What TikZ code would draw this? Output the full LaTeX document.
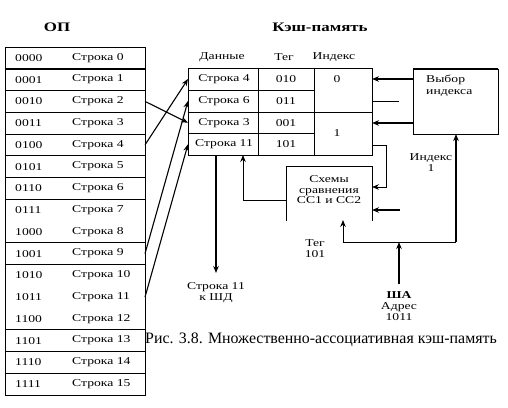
\documentclass[tikz,border=0pt]{standalone}
\usepackage{fontspec}
\setmainfont{Liberation Serif}
\newfontfamily\diagfont[FakeStretch=1.3]{Liberation Serif}
\usetikzlibrary{arrows.meta}
\tikzset{
  lbl/.style={font=\diagfont\fontsize{10.5}{12}\selectfont, inner sep=0pt},
  ttl/.style={font=\diagfont\fontsize{13}{15}\selectfont\bfseries, inner sep=0pt},
  ln/.style={line width=0.8pt},
  arr/.style={line width=1.1pt, -{Stealth[length=7pt,width=5.5pt]}},
}
\begin{document}
\begin{tikzpicture}[x=1pt,y=-1pt]
\useasboundingbox (0,0) rectangle (508,407);
% ---------- Titles ----------
\node[ttl] (tOP) at (57,27) {ОП};
\node[ttl] (tCache) at (320,27) {Кэш-память};
% ---------- Main memory table ----------
\def\rh{21.75}
\draw[ln] (5,47) rectangle (145,395);
\draw[line width=1.6pt] (5,68.75) -- (145,68.75);
\foreach \i in {1,2,3,4,5,6,8,9,12,13,14} {
  \draw[ln] (5,{47+\rh*(\i+1)}) -- (145,{47+\rh*(\i+1)});
}
\foreach \a [count=\i from 0] in {0000,0001,0010,0011,0100,0101,0110,0111,1000,1001,1010,1011,1100,1101,1110,1111} {
  \node[lbl,anchor=west] (adr\i) at (15,{47+\rh*(\i+0.5)}) {\a};
  \node[lbl,anchor=west] (op\i) at (72,{47+\rh*(\i+0.5)}) {Строка \i};
  \coordinate (opr\i) at (145,{47+\rh*(\i+0.5)});
}
% ---------- Cache table ----------
\node[lbl] (hData) at (222,57) {Данные};
\node[lbl] (hTag) at (284,57) {Тег};
\node[lbl] (hIdx) at (334,57) {Индекс};
\draw[ln] (188,68) rectangle (372,155);
\draw[ln] (258,68) -- (258,155);
\draw[ln] (314,68) -- (314,155);
\draw[ln] (188,90) -- (314,90);
\draw[ln] (188,133.5) -- (314,133.5);
\draw[ln] (188,112) -- (372,112);
\foreach \s/\t/\y [count=\k] in {4/010/79, 6/011/101, 3/001/122.75, 11/101/144.25} {
  \node[lbl] (cd\k) at (224,\y) {Строка \s};
  \node[lbl] (ct\k) at (286,\y) {\t};
  \coordinate (cl\k) at (188,\y);
}
\node[lbl] (ci0) at (337,79) {0};
\node[lbl] (ci1) at (337,133) {1};
\coordinate (cr1) at (372,79);
\coordinate (cr2) at (372,101);
\coordinate (cr3) at (372,123);
\coordinate (cr4) at (372,145);
% ---------- Index selector ----------
\draw[ln] (413,134) -- (413,69) (498,69) -- (498,134) -- (413,134);
\draw[line width=1.8pt] (412.6,69) -- (498.4,69);
\node[lbl,anchor=north west,align=left] (sel) at (426,75) {Выбор\\[-0.5pt]индекса};
\coordinate (selA) at (413,79);
\coordinate (selB) at (413,123);
\coordinate (selBot) at (456,134);
% ---------- Comparators ----------
\draw[ln] (286,221) -- (286,166) -- (372,166) -- (372,221);
\node[lbl,align=center] (cmp) at (329,190) {Схемы\\[-1.5pt]сравнения\\[-1.5pt]СС1 и СС2};
\coordinate (cmpL) at (286,200);
\coordinate (cmpR1) at (372,187);
\coordinate (cmpR2) at (372,210);
\coordinate (cmpB) at (343,220);
% ---------- Connectors ----------
\draw[arr] (opr2) -- (cl3);
\draw[arr] (opr4) -- (cl1);
\draw[arr] (opr9) -- (cl2);
\draw[arr] (opr11) -- (cl4);
\draw[arr] (selA) -- (cr1);
\coordinate (stub) at (399,101);
\draw[ln] (cr2) -- (stub);
\draw[arr] (selB) -- (cr3);
\draw[ln,-{Stealth[length=7pt,width=5.5pt]}] (cr4) -- (386,145) -- (386,187) -- (cmpR1);
\coordinate (in2) at (400,210);
\draw[arr] (in2) -- (cmpR2);
\draw[ln,-{Stealth[length=7pt,width=5.5pt]}] (cmpL) -- (243,200) -- (243,155);
\coordinate (dOut) at (216,273);
\draw[arr] (216,155) -- (dOut);
\node[lbl,align=center] (dLbl) at (216,293) {Строка 11\\[-1pt]к ШД};
% address bus
\coordinate (jL) at (343,242);
\coordinate (jM) at (399,242);
\coordinate (jR) at (456,242);
\coordinate (sha) at (399,284);
\draw[arr] (sha) -- (jM);
\draw[ln] (jL) -- (jR);
\draw[ln,-{Stealth[length=7pt,width=5.5pt]}] (jL) -- (cmpB);
\draw[arr] (jR) -- (selBot);
\node[lbl,align=center] (shaLbl) at (399,306) {\textbf{ША}\\[-1pt]Адрес\\[-1pt]1011};
\node[lbl,align=center] (idxLbl) at (431,163) {Индекс\\[-1pt]1};
\node[lbl,align=center] (tagLbl) at (315,249) {Тег\\[-1pt]101};
% ---------- Caption ----------
\node[font=\fontsize{15.9}{18}\selectfont, inner sep=0pt, anchor=west] (cap) at (145,340) {Рис. 3.8. Множественно-ассоциативная кэш-память};
\end{tikzpicture}
\end{document}
